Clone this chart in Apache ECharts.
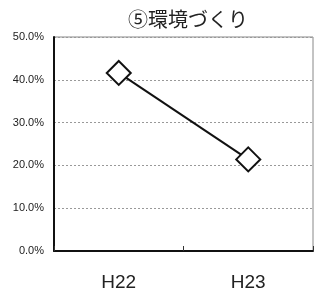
<!DOCTYPE html>
<html>
<head>
<meta charset="utf-8">
<script src="https://cdn.jsdelivr.net/npm/echarts@6/dist/echarts.min.js"></script>
<style>
  html, body { margin: 0; padding: 0; background: #fff; }
  #chart { width: 316px; height: 296px; }
</style>
</head>
<body>
<div id="chart"></div>
<script>
const categories = ['H22', 'H23']
const values = [41.6, 21.4]
const yTicks = [0, 10, 20, 30, 40, 50]

const chart = echarts.init(document.getElementById('chart'))

chart.setOption({
  animation: false,
  title: {
    text: '⑤環境づくり',
    left: 183,
    top: 4,
    textAlign: 'center',
    textStyle: {
      fontFamily: 'Noto Sans CJK JP',
      fontSize: 20,
      fontWeight: 'normal',
      color: '#222'
    }
  },
  grid: {
    left: 54,
    right: 3,
    top: 37,
    bottom: 45,
    show: true,
    borderColor: '#888',
    borderWidth: 1
  },
  xAxis: {
    type: 'category',
    data: categories,
    boundaryGap: true,
    axisLine: { lineStyle: { color: '#111', width: 2 } },
    axisTick: { show: true, inside: true, length: 5, lineStyle: { color: '#333' } },
    axisLabel: {
      margin: 22,
      fontFamily: 'Liberation Sans',
      fontSize: 19,
      color: '#222'
    }
  },
  yAxis: {
    type: 'value',
    min: yTicks[0],
    max: yTicks[yTicks.length - 1],
    interval: 10,
    axisLine: { show: true, lineStyle: { color: '#111', width: 2 } },
    axisTick: { show: false },
    axisLabel: {
      margin: 10,
      fontFamily: 'Liberation Sans',
      fontSize: 11,
      color: '#222',
      formatter: v => v.toFixed(1) + '%'
    },
    splitLine: { lineStyle: { color: '#999', type: [2, 2] } }
  },
  series: [{
    type: 'line',
    data: values,
    symbol: 'diamond',
    symbolSize: 24,
    lineStyle: { color: '#111', width: 2 },
    itemStyle: { color: '#fff', borderColor: '#111', borderWidth: 2 }
  }]
})
</script>
</body>
</html>
